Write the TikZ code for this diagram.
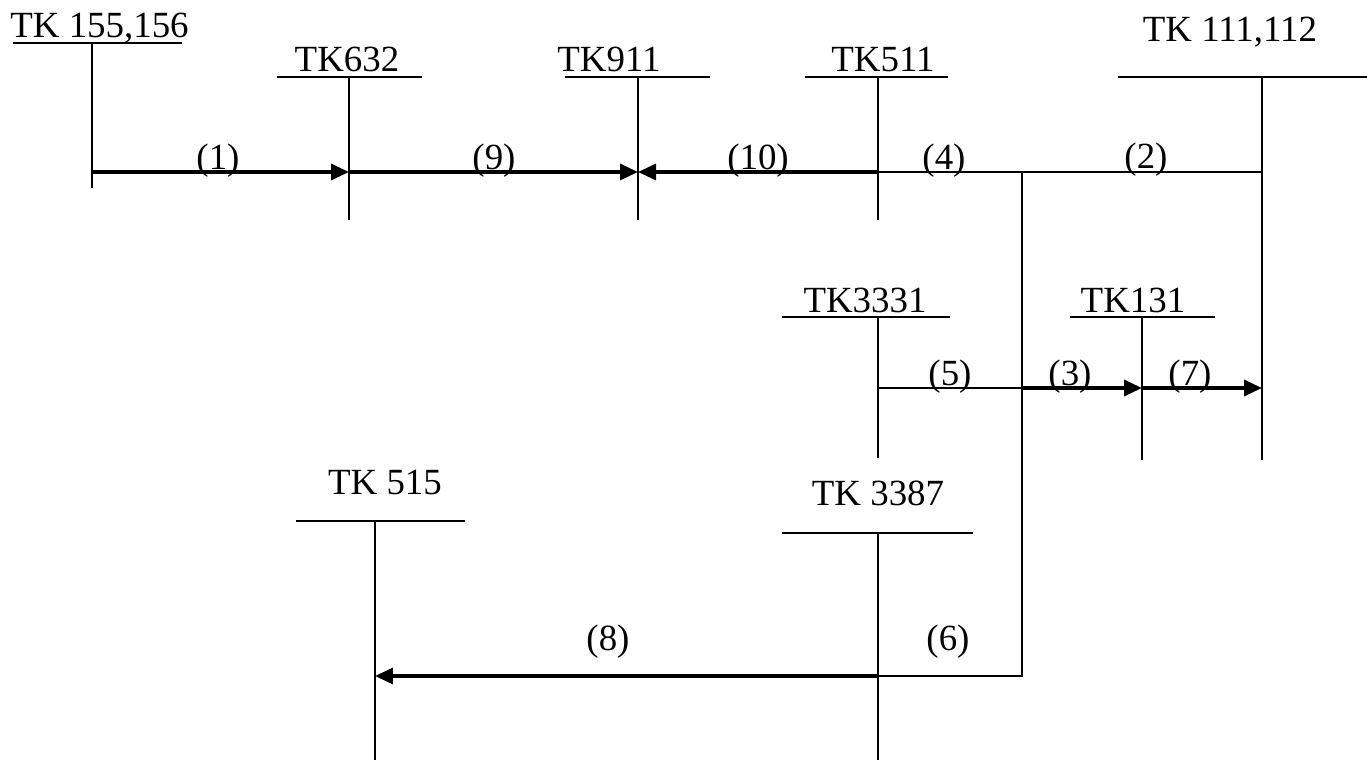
\documentclass[tikz,border=0pt]{standalone}
\usepackage{fontspec}
\setmainfont{Liberation Serif}
\usetikzlibrary{arrows.meta}
\begin{document}
\begin{tikzpicture}[x=0.02cm,y=-0.02cm,
 txt/.style={font=\fontsize{21}{24}\selectfont, inner sep=0pt, anchor=base},
 thinln/.style={line width=1.1pt},
 thickln/.style={line width=1.8pt},
 arr/.style={-{Triangle[length=0.36cm,width=0.32cm]}}]
\useasboundingbox (0,0) rectangle (1367,760);
% titles
\node[txt, anchor=base west] (t155) at (10,38) {TK 155,156};
\node[txt] (t632) at (347,72) {TK632};
\node[txt] (t911) at (609,72) {TK911};
\node[txt] (t511) at (883,72) {TK511};
\node[txt] (t111) at (1230,42) {TK 111,112};
\node[txt] (t3331) at (865,313) {TK3331};
\node[txt] (t131) at (1133,313) {TK131};
\node[txt] (t515) at (385,495) {TK 515};
\node[txt] (t3387) at (878,505) {TK 3387};
% bars
\coordinate (b155L) at (13,43);   \coordinate (b155R) at (182,43);
\coordinate (b632L) at (277,77);  \coordinate (b632R) at (422,77);
\coordinate (b911L) at (565,77);  \coordinate (b911R) at (710,77);
\coordinate (b511L) at (805,77);  \coordinate (b511R) at (948,77);
\coordinate (b111L) at (1118,77); \coordinate (b111R) at (1367,77);
\coordinate (b3331L) at (782,317); \coordinate (b3331R) at (950,317);
\coordinate (b131L) at (1070,317); \coordinate (b131R) at (1215,317);
\coordinate (b515L) at (296,521); \coordinate (b515R) at (465,521);
\coordinate (b3387L) at (782,533); \coordinate (b3387R) at (973,533);
\foreach \n in {155,632,911,511,111,3331,131,515,3387}
  \draw[thinln] (b\n L) -- (b\n R);
% verticals
\coordinate (v155t) at (92,43);   \coordinate (v155b) at (92,188);
\coordinate (v632t) at (349,77);  \coordinate (v632b) at (349,220);
\coordinate (v911t) at (638,77);  \coordinate (v911b) at (638,220);
\coordinate (v511t) at (878,77);  \coordinate (v511b) at (878,220);
\coordinate (v111t) at (1262,77); \coordinate (v111b) at (1262,460);
\coordinate (v3331t) at (878,317); \coordinate (v3331b) at (878,458);
\coordinate (v131t) at (1142,317); \coordinate (v131b) at (1142,460);
\coordinate (v515t) at (375,521); \coordinate (v515b) at (375,760);
\coordinate (v3387t) at (878,533); \coordinate (v3387b) at (878,760);
\foreach \n in {155,632,911,511,111,3331,131,515,3387}
  \draw[thinln] (v\n t) -- (v\n b);
% junctions
\coordinate (j155) at (92,172);  \coordinate (j632) at (349,172);
\coordinate (j911) at (638,172); \coordinate (j511) at (878,172);
\coordinate (jT) at (1022,172);  \coordinate (j111) at (1262,172);
\coordinate (jB) at (1022,676);  \coordinate (j3387) at (878,676);
\coordinate (j515) at (375,676);
\coordinate (k3331) at (878,388); \coordinate (kM) at (1022,388);
\coordinate (k131) at (1142,388); \coordinate (k111) at (1262,388);
% connectors
\draw[thickln, arr] (j155) -- (j632);
\draw[thickln, arr] (j632) -- (j911);
\draw[thickln, arr] (j511) -- (j911);
\draw[thinln] (j511) -- (j111);
\draw[thinln] (jT) -- (jB) -- (j3387);
\draw[thickln, arr] (j3387) -- (j515);
\draw[thinln] (k3331) -- (kM);
\draw[thickln, arr] (kM) -- (k131);
\draw[thickln, arr] (k131) -- (k111);
% labels
\node[txt] (l1) at (218,170) {(1)};
\node[txt] (l9) at (494,170) {(9)};
\node[txt] (l10) at (758,170) {(10)};
\node[txt] (l4) at (944,170) {(4)};
\node[txt] (l2) at (1146,169) {(2)};
\node[txt] (l5) at (950,386) {(5)};
\node[txt] (l3) at (1070,386) {(3)};
\node[txt] (l7) at (1190,386) {(7)};
\node[txt] (l8) at (608,650) {(8)};
\node[txt] (l6) at (948,650) {(6)};
\end{tikzpicture}
\end{document}
